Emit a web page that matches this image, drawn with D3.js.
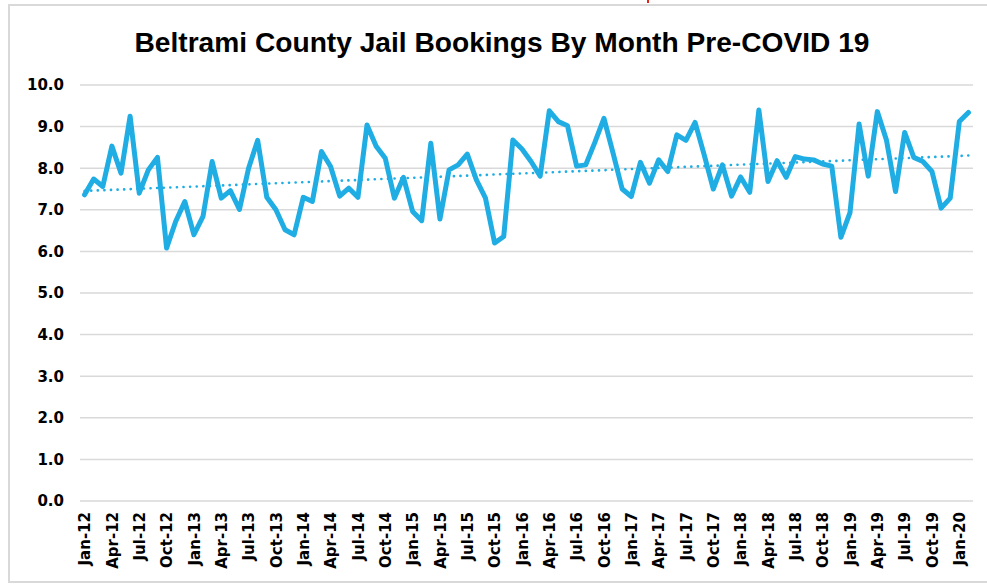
<!DOCTYPE html>
<html>
<head>
<meta charset="utf-8">
<script src="https://cdn.jsdelivr.net/npm/d3@7"></script>
<style>
  html, body { margin: 0; padding: 0; background: #fff; }
  svg { display: block; }
</style>
</head>
<body>
<div id="chart"></div>
<script>
// monthly bookings (per day avg), Jan-12 .. Feb-20
const startMonth = new Date(2012, 0, 1);
const bookings = [
  7.36, 7.74, 7.56, 8.53, 7.88, 9.25, 7.40, 7.96, 8.26, 6.08, 6.72, 7.20,
  6.40, 6.84, 8.16, 7.28, 7.46, 7.01, 8.00, 8.67, 7.30, 7.00, 6.52, 6.40,
  7.30, 7.20, 8.40, 8.04, 7.33, 7.52, 7.30, 9.04, 8.53, 8.24, 7.28, 7.78,
  6.96, 6.74, 8.60, 6.78, 7.96, 8.08, 8.34, 7.72, 7.28, 6.20, 6.36, 8.68,
  8.46, 8.16, 7.81, 9.38, 9.12, 9.02, 8.05, 8.08, 8.62, 9.20, 8.36, 7.50,
  7.32, 8.14, 7.64, 8.20, 7.92, 8.80, 8.67, 9.10, 8.32, 7.50, 8.08, 7.33,
  7.79, 7.42, 9.40, 7.68, 8.18, 7.78, 8.28, 8.22, 8.20, 8.10, 8.05, 6.34,
  6.93, 9.06, 7.81, 9.36, 8.68, 7.44, 8.86, 8.26, 8.16, 7.92, 7.04, 7.28,
  9.12, 9.34
];
const yTicks = [0, 1, 2, 3, 4, 5, 6, 7, 8, 9, 10];
const titleText = 'Beltrami County Jail Bookings By Month Pre-COVID 19';

const fmtMonth = d3.timeFormat('%b-%y');
const months = bookings.map((_, i) => fmtMonth(d3.timeMonth.offset(startMonth, i)));

const W = 987, H = 584;
const blue = '#1FADE4';
const labelFont = '"DejaVu Sans", Lato, sans-serif';

const svg = d3.select('#chart').append('svg')
  .attr('width', W).attr('height', H);

// chart frame
svg.append('rect')
  .attr('x', 9).attr('y', 5).attr('width', W).attr('height', H - 7)
  .attr('fill', '#fff').attr('stroke', '#d9d9d9').attr('stroke-width', 2);
svg.append('rect')
  .attr('x', 647).attr('y', 0).attr('width', 2).attr('height', 3)
  .attr('fill', '#e8221a');

const x = d3.scalePoint().domain(months).range([80, 973]).padding(0.5);
const y = d3.scaleLinear().domain([0, 10]).range([501, 85]);

// gridlines
svg.append('g')
  .selectAll('line')
  .data(yTicks)
  .join('line')
  .attr('x1', 80).attr('x2', 973)
  .attr('y1', (d) => y(d)).attr('y2', (d) => y(d))
  .attr('stroke', '#d9d9d9').attr('stroke-width', 1.5);

// y axis labels
const yAxis = svg.append('g')
  .attr('transform', 'translate(64,0)')
  .call(d3.axisLeft(y).tickValues(yTicks).tickFormat(d3.format('.1f')).tickSize(0).tickPadding(0));
yAxis.select('.domain').remove();
yAxis.selectAll('text')
  .style('font-family', labelFont)
  .style('font-size', '15px')
  .style('font-weight', 'bold')
  .attr('fill', '#000');

// x axis labels, every 3rd month
const xAxis = svg.append('g')
  .attr('transform', 'translate(0,508)')
  .call(d3.axisBottom(x).tickValues(months.filter((_, i) => i % 3 === 0)).tickSize(0).tickPadding(0));
xAxis.select('.domain').remove();
xAxis.selectAll('text')
  .style('font-family', labelFont)
  .style('font-size', '15px')
  .style('font-weight', 'bold')
  .attr('fill', '#000')
  .attr('text-anchor', 'end')
  .attr('dy', '0.35em')
  .attr('transform', 'rotate(-90)')
  .attr('x', -4)
  .attr('y', 0);

// linear trendline
const n = bookings.length;
const mx = d3.mean(bookings, (_, i) => i);
const my = d3.mean(bookings);
const slope = d3.sum(bookings, (v, i) => (i - mx) * (v - my)) / d3.sum(bookings, (_, i) => (i - mx) ** 2);
const trend = [0, n - 1].map((i) => ({ i, v: my + slope * (i - mx) }));

svg.append('path')
  .datum(trend)
  .attr('fill', 'none')
  .attr('stroke', blue)
  .attr('stroke-width', 2.6)
  .attr('stroke-linecap', 'round')
  .attr('stroke-dasharray', '0.1 6.5')
  .attr('d', d3.line().x((d) => x(months[d.i])).y((d) => y(d.v)));

// main series
svg.append('path')
  .datum(bookings)
  .attr('fill', 'none')
  .attr('stroke', blue)
  .attr('stroke-width', 5)
  .attr('stroke-linejoin', 'round')
  .attr('stroke-linecap', 'round')
  .attr('d', d3.line().x((d, i) => x(months[i])).y((d) => y(d)));

// title (slightly condensed)
svg.append('text')
  .attr('x', 502).attr('y', 52)
  .attr('text-anchor', 'middle')
  .attr('textLength', 735)
  .attr('lengthAdjust', 'spacingAndGlyphs')
  .style('font-family', '"Liberation Sans", Arial, sans-serif')
  .style('font-size', '28px')
  .style('font-weight', 'bold')
  .attr('fill', '#000')
  .text(titleText);
</script>
</body>
</html>
